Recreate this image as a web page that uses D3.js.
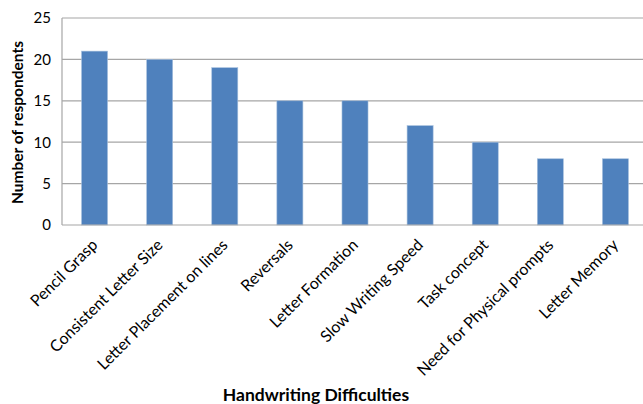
<!DOCTYPE html>
<html><head><meta charset="utf-8">
<script src="https://cdn.jsdelivr.net/npm/d3@7"></script>
<style>body{margin:0;background:#fff;} svg{display:block;}</style>
</head><body>
<script>
const categories = ["Pencil Grasp","Consistent Letter Size","Letter Placement on lines","Reversals","Letter Formation","Slow Writing Speed","Task concept","Need for Physical prompts","Letter Memory"];
const values = [21,20,19,15,15,12,10,8,8];
const yTicks = [0,5,10,15,20,25];
const xTitle = "Handwriting Difficulties";
const yTitle = "Number of respondents";

const W=643,H=404;
const mLeft=62, mTop=18, plotW=586, plotH=207;
const font = "Lato, 'Open Sans', sans-serif";
const svg = d3.select("body").append("svg").attr("width",W).attr("height",H);
const x = d3.scaleBand().domain(categories).range([mLeft,mLeft+plotW]).paddingInner(0.6).paddingOuter(0.3);
const y = d3.scaleLinear().domain([0,25]).range([mTop+plotH,mTop]);

// gridlines
svg.append("g").selectAll("line").data(yTicks.filter(d=>d>0)).join("line")
  .attr("x1",mLeft).attr("x2",mLeft+plotW).attr("y1",d=>y(d)).attr("y2",d=>y(d))
  .attr("stroke","#a6a6a6").attr("stroke-width",1.2);

// bars
svg.append("g").selectAll("rect").data(values).join("rect")
  .attr("x",(d,i)=>x(categories[i])).attr("width",x.bandwidth())
  .attr("y",d=>y(d)).attr("height",d=>y(0)-y(d))
  .attr("fill","#4f81bd").attr("stroke","#a7c0de").attr("stroke-width",0.6);

// axes lines
svg.append("line").attr("x1",mLeft).attr("x2",mLeft).attr("y1",mTop).attr("y2",y(0)).attr("stroke","#a6a6a6").attr("stroke-width",1.2);
svg.append("line").attr("x1",mLeft).attr("x2",mLeft+plotW).attr("y1",y(0)).attr("y2",y(0)).attr("stroke","#a6a6a6").attr("stroke-width",1.2);

// y tick labels
svg.append("g").selectAll("text").data(yTicks).join("text")
  .attr("x",51).attr("y",d=>y(d)).attr("dy","0.36em").attr("text-anchor","end")
  .attr("font-family",font).attr("font-size",15).attr("fill","#000").text(d=>d);

// x labels
svg.append("g").selectAll("text").data(categories).join("text")
  .attr("transform",d=>`translate(${x(d)+x.bandwidth()/2+4},${y(0)+21}) rotate(-45)`)
  .attr("text-anchor","end").attr("font-family",font).attr("font-size",16).attr("fill","#000").text(d=>d);

// titles
svg.append("text").attr("x",316).attr("y",401).attr("text-anchor","middle")
  .attr("font-family",font).attr("font-weight","bold").attr("font-size",17.5).text(xTitle);
svg.append("text").attr("transform",`translate(23,${mTop+plotH/2+1}) rotate(-90)`).attr("text-anchor","middle")
  .attr("font-family",font).attr("font-weight","bold").attr("font-size",15.5).text(yTitle);
</script>
</body></html>
